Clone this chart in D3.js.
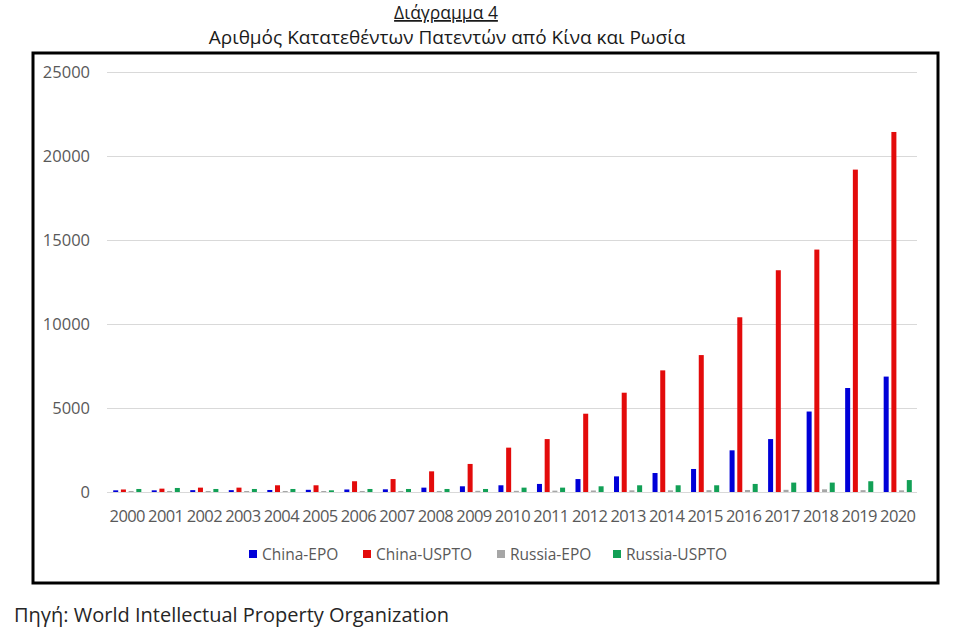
<!DOCTYPE html>
<html>
<head>
<meta charset="utf-8">
<script src="https://cdn.jsdelivr.net/npm/d3@7"></script>
<style>
  html, body { margin: 0; padding: 0; background: #fff; }
  svg { display: block; font-family: "Open Sans", "Noto Sans", sans-serif; }
</style>
</head>
<body>
<svg id="chart" width="974" height="636"></svg>
<script>
const years = ["2000","2001","2002","2003","2004","2005","2006","2007","2008","2009","2010",
               "2011","2012","2013","2014","2015","2016","2017","2018","2019","2020"];
const seriesNames = ["China-EPO", "China-USPTO", "Russia-EPO", "Russia-USPTO"];
const chinaEPO    = [100, 100, 110, 110, 120, 130, 150, 160, 260, 340, 400, 480, 770, 930, 1130, 1370, 2480, 3150, 4790, 6190, 6870];
const chinaUSPTO  = [150, 200, 260, 260, 400, 400, 640, 770, 1230, 1670, 2640, 3150, 4660, 5910, 7240, 8150, 10400, 13200, 14430, 19190, 21430];
const russiaEPO   = [60, 60, 60, 60, 60, 60, 60, 60, 60, 70, 70, 80, 90, 100, 100, 110, 120, 130, 160, 110, 100];
const russiaUSPTO = [180, 240, 180, 180, 180, 100, 180, 180, 180, 180, 260, 260, 340, 400, 400, 400, 480, 560, 560, 640, 710];
const yTicks = [0, 5000, 10000, 15000, 20000, 25000];
const colors = ["#0000d8", "#e30b0b", "#a6a6a6", "#12a056"];

const seriesValues = [chinaEPO, chinaUSPTO, russiaEPO, russiaUSPTO];

const svg = d3.select("#chart");

// Outer frame
svg.append("rect")
  .attr("x", 33).attr("y", 53).attr("width", 905).attr("height", 530)
  .attr("fill", "none").attr("stroke", "#000").attr("stroke-width", 3);

// Titles
svg.append("text")
  .attr("x", 446).attr("y", 19)
  .attr("text-anchor", "middle")
  .attr("font-size", 17.5).attr("fill", "#1a1a1a")
  .attr("text-decoration", "underline")
  .text("Διάγραμμα 4");
svg.append("text")
  .attr("x", 447).attr("y", 44)
  .attr("text-anchor", "middle")
  .attr("font-size", 19).attr("fill", "#1a1a1a")
  .text("Αριθμός Κατατεθέντων Πατεντών από Κίνα και Ρωσία");

// Scales
const x0 = d3.scaleBand().domain(years).range([108, 917]).paddingInner(0.27).paddingOuter(0.135);
const x1 = d3.scaleBand().domain(seriesNames).range([0, x0.bandwidth()]).paddingInner(0.35).paddingOuter(0);
const y = d3.scaleLinear().domain([0, 25000]).range([492, 72]);

// Gridlines
const yAxis = d3.axisLeft(y).tickValues(yTicks).tickSize(-(917 - 107)).tickPadding(17).tickFormat(d3.format("d"));
const gy = svg.append("g").attr("transform", "translate(107,0)").call(yAxis);
gy.select(".domain").remove();
gy.selectAll(".tick line").attr("stroke", "#d9d9d9").attr("stroke-width", 1);
gy.selectAll(".tick text").attr("font-size", 16.5).attr("fill", "#595959")
  .attr("font-family", "Open Sans, sans-serif");

// Bars
const groups = svg.append("g").selectAll("g")
  .data(years)
  .join("g")
  .attr("transform", d => `translate(${x0(d)},0)`);

groups.selectAll("rect")
  .data((d, i) => seriesNames.map((s, j) => ({ s, v: seriesValues[j][i], c: colors[j] })))
  .join("rect")
  .attr("x", d => x1(d.s))
  .attr("width", x1.bandwidth())
  .attr("y", d => y(d.v))
  .attr("height", d => y(0) - y(d.v))
  .attr("fill", d => d.c);

// Baseline
svg.append("line")
  .attr("x1", 107).attr("x2", 917).attr("y1", y(0) + 0.5).attr("y2", y(0) + 0.5)
  .attr("stroke", "#d9d9d9").attr("stroke-width", 1);

// X axis labels
const xAxis = d3.axisBottom(x0).tickSize(0).tickPadding(18);
const gx = svg.append("g").attr("transform", `translate(0,${y(0)})`).call(xAxis);
gx.select(".domain").remove();
gx.selectAll(".tick text").attr("font-size", 16.5).attr("fill", "#595959")
  .attr("font-family", "Open Sans, sans-serif").attr("letter-spacing", -0.6);

// Legend
const legendX = [249, 363, 497, 613];
const legend = svg.append("g").selectAll("g")
  .data(seriesNames)
  .join("g")
  .attr("transform", (d, i) => `translate(${legendX[i]},549)`);
legend.append("rect").attr("width", 8).attr("height", 8).attr("y", 1)
  .attr("fill", (d, i) => colors[i]);
legend.append("text").attr("x", 13).attr("y", 10.5)
  .attr("font-size", 15.5).attr("fill", "#595959")
  .text(d => d);

// Source
svg.append("text")
  .attr("x", 14).attr("y", 622)
  .attr("font-size", 20).attr("fill", "#262626")
  .text("Πηγή: World Intellectual Property Organization");
</script>
</body>
</html>
